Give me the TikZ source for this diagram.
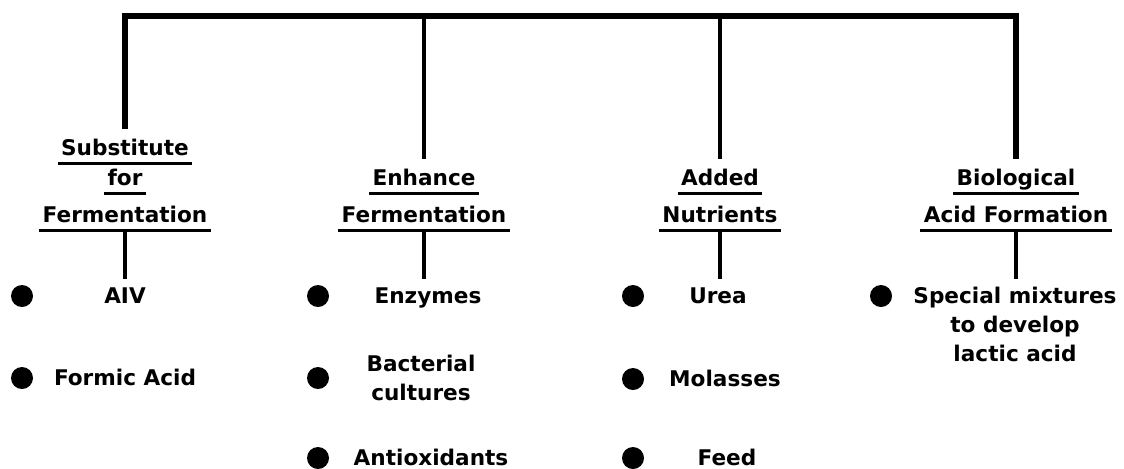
\documentclass[tikz,border=0pt]{standalone}
\usepackage{fontspec}
\setmainfont{DejaVu Sans}

\begin{document}
\begin{tikzpicture}[x=0.5pt, y=-0.5pt,
  font=\fontsize{10.8}{14.5}\selectfont\bfseries,
  uline/.style={draw, line width=1.4pt},
  hd/.style={anchor=base, inner xsep=1.5pt, inner ysep=2pt, text height=8.5pt, text depth=2pt,
             append after command={(\tikzlastnode.south west) edge[uline] (\tikzlastnode.south east)}},
  item/.style={anchor=base, inner sep=1pt},
  items/.style={anchor=north, align=center, inner sep=1pt},
  dot/.style={circle, fill, inner sep=0pt, minimum size=11pt},
  bar/.style={line width=3pt, shorten <=2.5pt, shorten >=2.5pt},
  stem/.style={line width=1.7pt, shorten >=2.5pt},
  leg/.style={line width=2.4pt, shorten >=3pt}]
\useasboundingbox (0,0) rectangle (1124,468);
\coordinate (bar) at (0,16);
% headings
\node[hd] (sub1) at (125,155) {Substitute};
\node[hd] (sub2) at (125,185) {for};
\node[hd] (sub3) at (125,222) {Fermentation};
\node[hd] (enh1) at (424,185) {Enhance};
\node[hd] (enh2) at (424,222) {Fermentation};
\node[hd] (add1) at (720,185) {Added};
\node[hd] (add2) at (720,222) {Nutrients};
\node[hd] (bio1) at (1016,185) {Biological};
\node[hd] (bio2) at (1016,222) {Acid Formation};
% items
\node[item] (aiv) at (125,303) {AIV};
\node[item] (formic) at (125,385) {Formic Acid};
\node[item] (enz) at (428,303) {Enzymes};
\node[items] (bact) at (421,353) {Bacterial\\cultures};
\node[item] (anti) at (431,465) {Antioxidants};
\node[item] (urea) at (718,303) {Urea};
\node[item] (mol) at (725,386) {Molasses};
\node[item] (feed) at (727,465) {Feed};
\node[items] (mix) at (1015,285) {Special mixtures\\to develop\\lactic acid};
\node[dot] (d11) at (22,296) {};
\node[dot] (d12) at (22,378) {};
\node[dot] (d21) at (318,296) {};
\node[dot] (d22) at (318,378) {};
\node[dot] (d23) at (318,458) {};
\node[dot] (d31) at (633,296) {};
\node[dot] (d32) at (633,379) {};
\node[dot] (d33) at (633,458) {};
\node[dot] (d41) at (881,296) {};
% connectors
\draw[bar] (sub1.north) -- (sub1.north |- bar) -| (bio1.north);
\draw[stem] (enh1.north |- bar) -- (enh1.north);
\draw[stem] (add1.north |- bar) -- (add1.north);
\draw[leg] (sub3.south) -- (sub3.south |- aiv.north);
\draw[leg] (enh2.south) -- (enh2.south |- enz.north);
\draw[leg] (add2.south) -- (add2.south |- urea.north);
\draw[leg] (bio2.south) -- (bio2.south |- mix.north);
\end{tikzpicture}
\end{document}
